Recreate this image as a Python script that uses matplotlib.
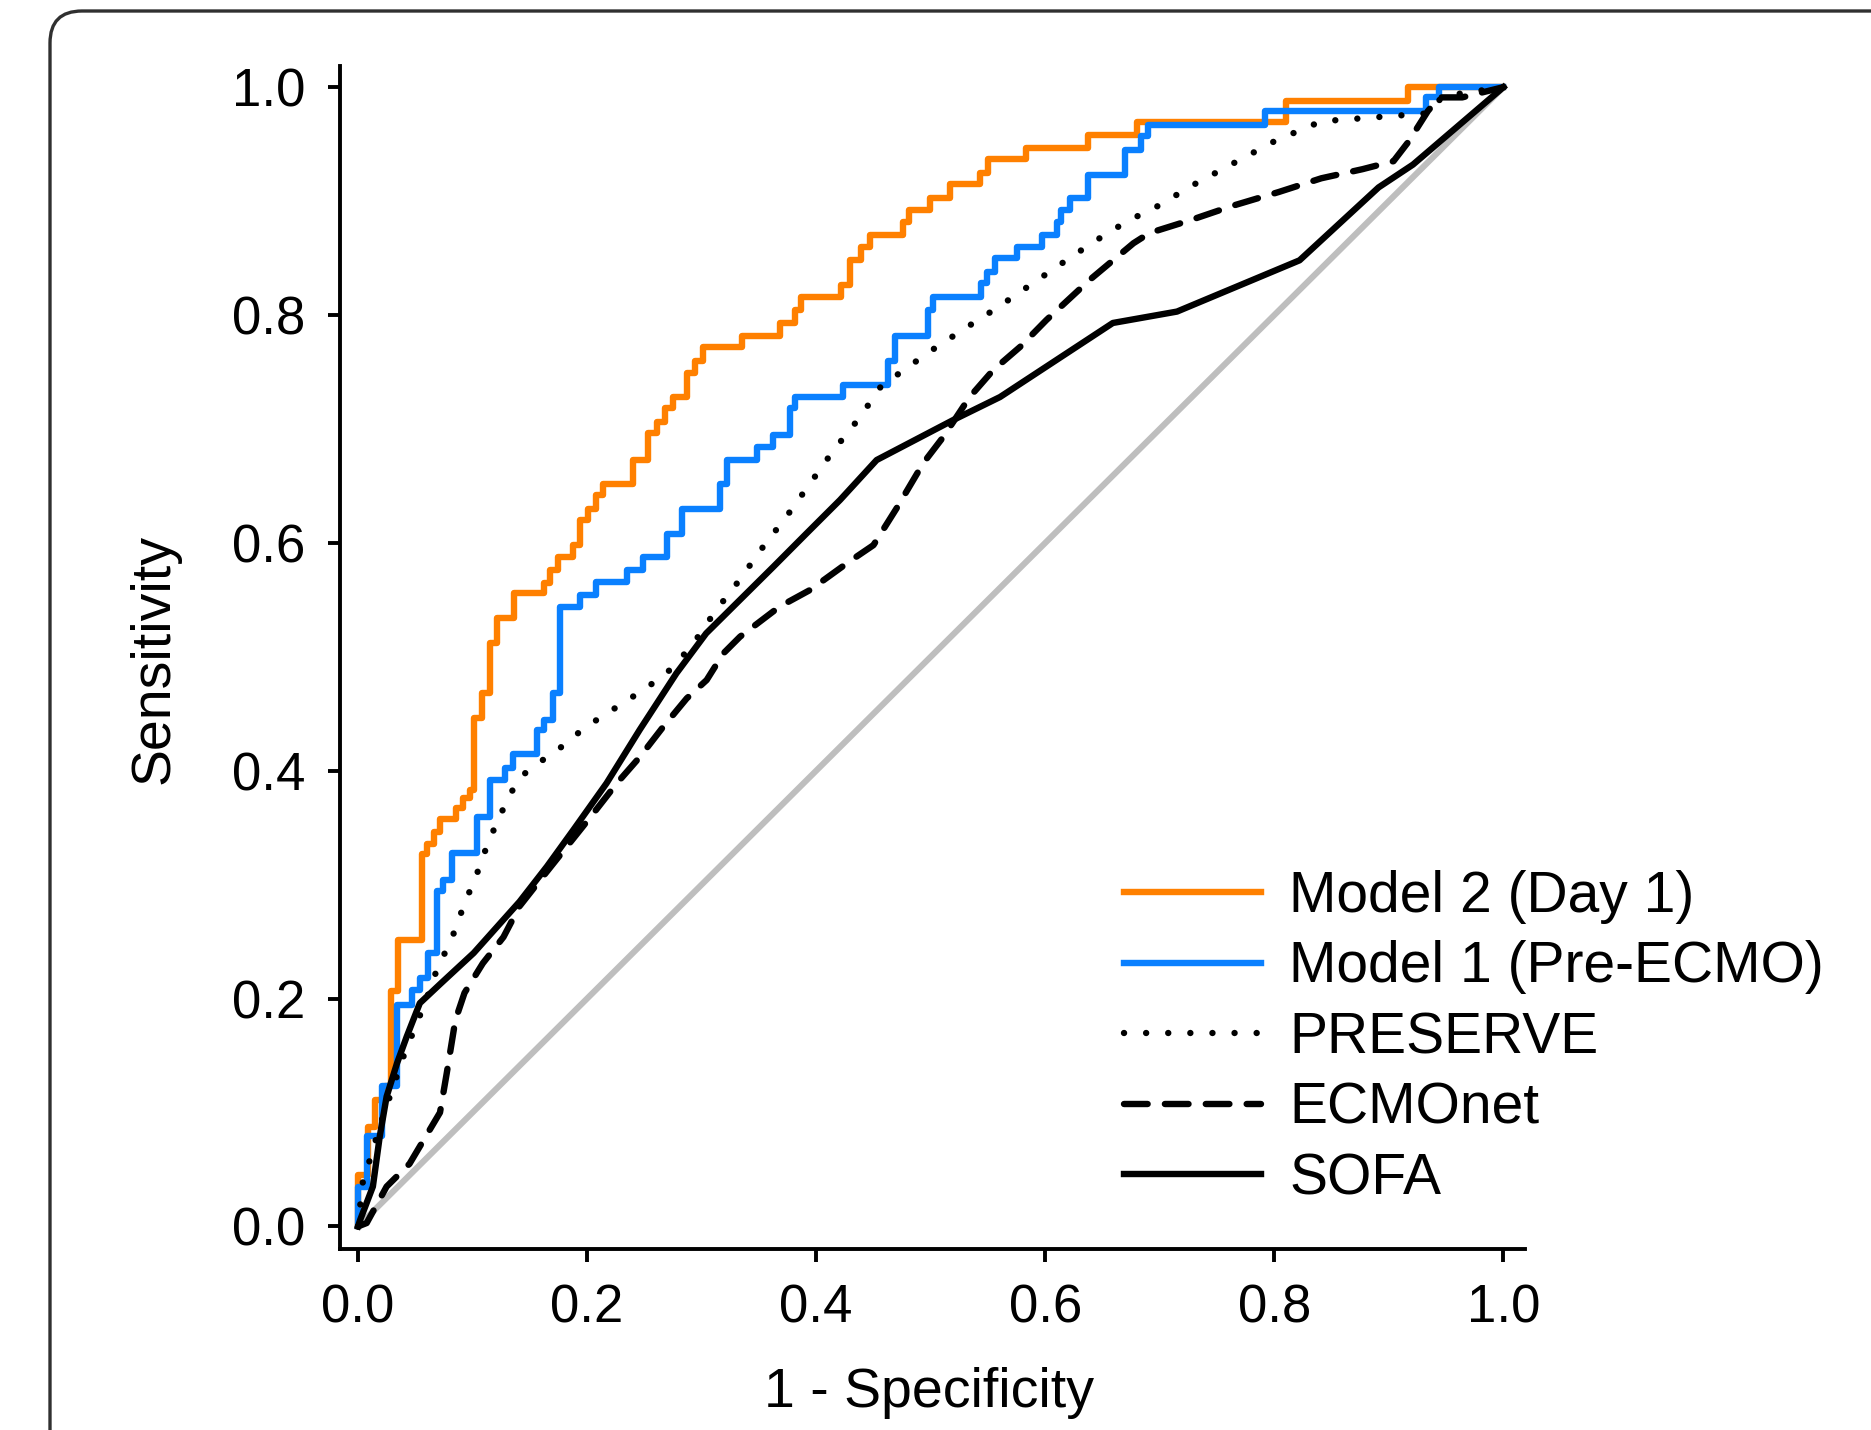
import matplotlib
matplotlib.use('Agg')
import matplotlib.pyplot as plt
from matplotlib.patches import FancyBboxPatch
from matplotlib.transforms import IdentityTransform

plt.rcParams['font.family'] = ['Liberation Sans', 'DejaVu Sans']

# ---------------- data ----------------
series_labels = ["Model 2 (Day 1)", "Model 1 (Pre-ECMO)", "PRESERVE", "ECMOnet", "SOFA"]

# Model 2 (Day 1): empirical ROC steps (fpr where tpr jumps, tpr level after jump)
m2_fpr = [0, 0, 0.009, 0.015, 0.024, 0.029, 0.035, 0.0556, 0.060, 0.066, 0.072, 0.086, 0.092,
          0.098, 0.101, 0.108, 0.115, 0.121, 0.136, 0.162, 0.168, 0.175, 0.188, 0.194, 0.201,
          0.208, 0.214, 0.240, 0.253, 0.261, 0.268, 0.275, 0.287, 0.294, 0.301, 0.335, 0.368,
          0.3815, 0.387, 0.422, 0.4295, 0.4395, 0.447, 0.476, 0.481, 0.499, 0.517, 0.543, 0.550,
          0.583, 0.637, 0.680, 0.810, 0.917, 1.0]
m2_tpr = [0, 0.045, 0.0875, 0.111, 0.123, 0.207, 0.251, 0.327, 0.336, 0.346, 0.358, 0.367, 0.376,
          0.383, 0.446, 0.468, 0.512, 0.534, 0.556, 0.5645, 0.576, 0.588, 0.598, 0.620, 0.630,
          0.642, 0.652, 0.673, 0.696, 0.706, 0.718, 0.728, 0.749, 0.760, 0.772, 0.782, 0.793,
          0.804, 0.816, 0.826, 0.848, 0.860, 0.870, 0.882, 0.892, 0.903, 0.915, 0.925, 0.937,
          0.947, 0.958, 0.969, 0.988, 1.0, 1.0]

# Model 1 (Pre-ECMO)
m1_fpr = [0, 0, 0.0076, 0.0207, 0.034, 0.047, 0.054, 0.0615, 0.0687, 0.0745, 0.082, 0.1036,
          0.115, 0.128, 0.1357, 0.156, 0.162, 0.1705, 0.176, 0.194, 0.208, 0.2346, 0.249,
          0.2695, 0.2826, 0.316, 0.322, 0.348, 0.3626, 0.377, 0.3815, 0.4237, 0.463, 0.469,
          0.498, 0.502, 0.544, 0.549, 0.556, 0.575, 0.597, 0.610, 0.614, 0.6216, 0.637, 0.670,
          0.684, 0.690, 0.792, 0.932, 0.944, 1.0]
m1_tpr = [0, 0.035, 0.079, 0.123, 0.194, 0.2075, 0.218, 0.240, 0.294, 0.304, 0.3275, 0.3596,
          0.392, 0.402, 0.415, 0.436, 0.4445, 0.468, 0.544, 0.554, 0.566, 0.576, 0.588,
          0.608, 0.630, 0.652, 0.673, 0.684, 0.695, 0.718, 0.728, 0.7385, 0.760, 0.782,
          0.804, 0.816, 0.828, 0.838, 0.850, 0.860, 0.870, 0.882, 0.892, 0.903, 0.923, 0.945,
          0.957, 0.967, 0.979, 0.991, 1.0, 1.0]

# PRESERVE
pr_fpr = [0, 0.004, 0.013, 0.018, 0.040, 0.060, 0.0687, 0.082, 0.0925, 0.104, 0.114, 0.127,
          0.140, 0.153, 0.182, 0.1967, 0.240, 0.268, 0.291, 0.3117, 0.332, 0.354, 0.374, 0.3946,
          0.415, 0.438, 0.457, 0.470, 0.4993, 0.528, 0.5575, 0.585, 0.614, 0.642, 0.671, 0.700,
          0.727, 0.801, 0.841, 0.934, 0.947, 1.0]
pr_tpr = [0, 0.038, 0.067, 0.085, 0.150, 0.200, 0.225, 0.253, 0.282, 0.310, 0.338, 0.367,
          0.393, 0.4035, 0.424, 0.437, 0.465, 0.484, 0.509, 0.5396, 0.566, 0.597, 0.623, 0.652,
          0.681, 0.710, 0.738, 0.747, 0.768, 0.787, 0.806, 0.825, 0.845, 0.864, 0.882, 0.8965,
          0.913, 0.953, 0.970, 0.977, 0.992, 1.0]

# ECMOnet
ec_fpr = [0, 0.0076, 0.025, 0.045, 0.0716, 0.0774, 0.085, 0.093, 0.109, 0.127, 0.141, 0.159,
          0.182, 0.2055, 0.226, 0.246, 0.2665, 0.287, 0.3044, 0.319, 0.3335, 0.368, 0.3946,
          0.4295, 0.450, 0.470, 0.4935, 0.511, 0.534, 0.5546, 0.578, 0.601, 0.639, 0.677, 0.691,
          0.726, 0.764, 0.804, 0.841, 0.877, 0.904, 0.917, 0.934, 0.944, 0.964, 1.0]
ec_tpr = [0, 0.003, 0.035, 0.055, 0.100, 0.134, 0.181, 0.205, 0.231, 0.254, 0.281, 0.304,
          0.333, 0.3626, 0.389, 0.412, 0.4386, 0.4635, 0.4796, 0.503, 0.5176, 0.544, 0.5586,
          0.584, 0.598, 0.630, 0.670, 0.693, 0.728, 0.7517, 0.772, 0.7956, 0.831, 0.863, 0.872,
          0.883, 0.896, 0.908, 0.920, 0.928, 0.935, 0.952, 0.979, 0.991, 0.991, 1.0]

# SOFA
so_fpr = [0, 0.002, 0.013, 0.019, 0.025, 0.034, 0.0425, 0.054, 0.072, 0.101, 0.141, 0.165,
          0.188, 0.217, 0.246, 0.278, 0.304, 0.3335, 0.3626, 0.3917, 0.4208, 0.4528, 0.520,
          0.5605, 0.659, 0.715, 0.822, 0.891, 0.921, 1.0]
so_tpr = [0, 0.006, 0.035, 0.079, 0.114, 0.143, 0.1665, 0.196, 0.213, 0.240, 0.285, 0.316,
          0.348, 0.389, 0.436, 0.4855, 0.5206, 0.550, 0.579, 0.6084, 0.6376, 0.6727, 0.708,
          0.728, 0.793, 0.803, 0.848, 0.912, 0.932, 1.0]

ref_line = [0, 1]
x_ticks = [0.0, 0.2, 0.4, 0.6, 0.8, 1.0]
y_ticks = [0.0, 0.2, 0.4, 0.6, 0.8, 1.0]
tick_labels = ["0.0", "0.2", "0.4", "0.6", "0.8", "1.0"]

# ---------------- figure ----------------
W, H = 1871, 1430
fig = plt.figure(figsize=(W / 100, H / 100), dpi=100)

# rounded frame around the panel (partially cropped right/bottom)
frame = FancyBboxPatch((50, -80), 1950, (H - 11) + 80,
                       boxstyle="round,pad=0,rounding_size=32",
                       transform=IdentityTransform(), facecolor='none',
                       edgecolor='#303030', linewidth=2.4, zorder=0)
fig.add_artist(frame)

ax = fig.add_axes([340 / W, 1 - 1249 / H, 1185 / W, (1249 - 65.6) / H])
ax.set_xlim(-0.0157, 1.0188)
ax.set_ylim(-0.0198, 1.0189)

lw = 4.6
ax.plot(ref_line, ref_line, color='#BEBEBE', lw=4.4, zorder=1, solid_capstyle='butt')
ax.step(m2_fpr, m2_tpr, where='post', color='#FF8000', lw=lw, zorder=2,
        label=series_labels[0])
ax.step(m1_fpr, m1_tpr, where='post', color='#0A80FF', lw=lw, zorder=3,
        label=series_labels[1])
ax.plot(pr_fpr, pr_tpr, color='black', lw=lw, linestyle=(0, (0.01, 3.45)),
        dash_capstyle='round', zorder=4, label=series_labels[2])
ax.plot(ec_fpr, ec_tpr, color='black', lw=lw, linestyle=(0, (3.7, 2.7)),
        dash_capstyle='round', zorder=5, label=series_labels[3])
ax.plot(so_fpr, so_tpr, color='black', lw=lw, zorder=6, label=series_labels[4])

for s in ['top', 'right']:
    ax.spines[s].set_visible(False)
for s in ['left', 'bottom']:
    ax.spines[s].set_linewidth(2.8)

ax.set_xticks(x_ticks)
ax.set_xticklabels(tick_labels)
ax.set_yticks(y_ticks)
ax.set_yticklabels(tick_labels)
ax.tick_params(direction='out', length=9, width=2.8, pad=16, labelsize=38)

fig.text(155 / W, 1 - 658.5 / H, "Sensitivity", rotation=90, ha='center', va='center',
         fontsize=40)
fig.text(929 / W, 1 - 1393 / H, "1 - Specificity", ha='center', va='center', fontsize=40)

leg = ax.legend(loc='center left', bbox_to_anchor=(1124 / W, 1 - 1038 / H),
                bbox_transform=fig.transFigure, frameon=False, fontsize=41,
                borderpad=0, borderaxespad=0, handlelength=2.4, handletextpad=0.5,
                labelspacing=0.29)

fig.savefig('out.png', dpi=100)
